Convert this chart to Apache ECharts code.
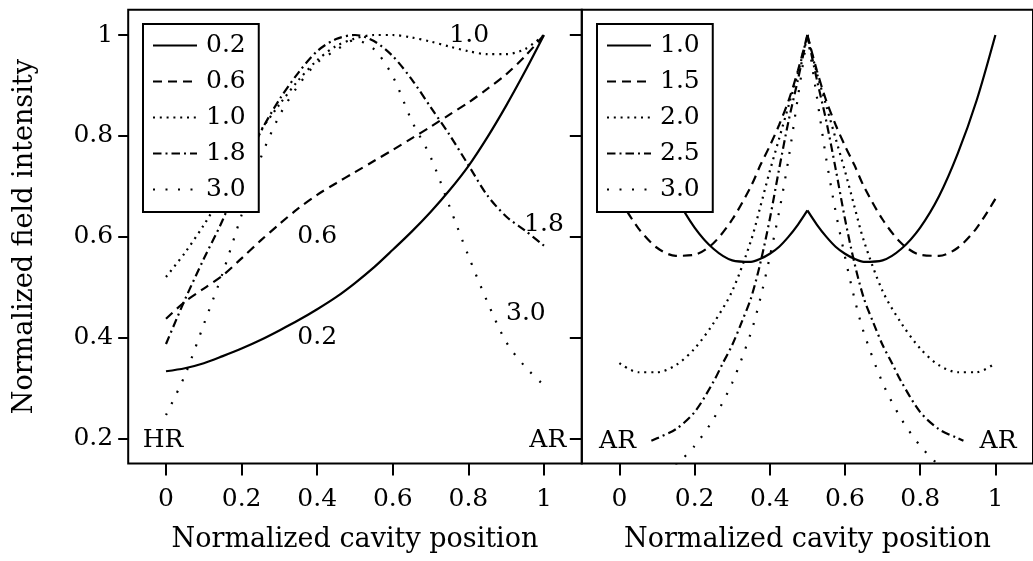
<!DOCTYPE html>
<html>
<head>
<meta charset="utf-8">
<script src="https://cdn.jsdelivr.net/npm/echarts@6/dist/echarts.min.js"></script>
<style>
html,body{margin:0;padding:0;background:#fff;}
#chart{width:1033px;height:561px;}
</style>
</head>
<body>
<div id="chart"></div>
<script>
// ---------- data ----------
const xTicks = [0, 0.2, 0.4, 0.6, 0.8, 1];
const yTicks = [0.2, 0.4, 0.6, 0.8, 1];

// left panel (HR at 0, AR at 1)
const leftNames = ['0.2', '0.6', '1.0', '1.8', '3.0'];
const leftX = [0,0.05,0.1,0.15,0.2,0.25,0.3,0.35,0.4,0.45,0.5,0.55,0.6,0.65,0.7,0.75,0.8,0.85,0.9,0.95,1];
const left02 = [0.333,0.339,0.349,0.363,0.378,0.395,0.414,0.434,0.456,0.48,0.508,0.539,0.574,0.61,0.649,0.692,0.74,0.797,0.86,0.928,1.0];
const left06 = [0.437,0.471,0.497,0.523,0.557,0.592,0.625,0.656,0.683,0.706,0.728,0.75,0.772,0.795,0.818,0.842,0.866,0.893,0.922,0.958,1.0];
const left10 = [0.52,0.568,0.623,0.685,0.75,0.81,0.862,0.91,0.95,0.978,0.993,1.0,1.0,0.995,0.987,0.977,0.968,0.962,0.962,0.972,1.0];
const left18 = [0.387,0.475,0.556,0.633,0.725,0.807,0.872,0.925,0.968,0.992,1.0,0.988,0.958,0.912,0.857,0.802,0.742,0.682,0.64,0.612,0.582];
const left30 = [0.246,0.325,0.426,0.528,0.643,0.755,0.84,0.9,0.945,0.97,0.99,0.972,0.918,0.83,0.758,0.66,0.562,0.471,0.391,0.342,0.305];

// right panel (AR at both ends), cusp at x = 0.5
const rightNames = ['1.0', '1.5', '2.0', '2.5', '3.0'];
const rightX = [0,0.05,0.1,0.15,0.2,0.25,0.3,0.35,0.375,0.4,0.425,0.45,0.475,0.5,0.525,0.55,0.575,0.6,0.625,0.65,0.7,0.75,0.8,0.85,0.9,0.95,1];
const right10 = [1.0,0.87,0.765,0.68,0.618,0.576,0.553,0.55,0.556,0.566,0.58,0.6,0.624,0.652,0.624,0.6,0.58,0.566,0.556,0.55,0.553,0.576,0.618,0.68,0.765,0.87,1.0];
const right15 = [0.675,0.617,0.578,0.562,0.564,0.587,0.634,0.7,0.742,0.78,0.822,0.87,0.93,1.0,0.93,0.87,0.822,0.78,0.742,0.7,0.634,0.587,0.564,0.562,0.578,0.617,0.675];
const right20 = [0.349,0.331,0.331,0.345,0.378,0.428,0.492,0.592,0.66,0.73,0.795,0.86,0.925,1.0,0.925,0.86,0.795,0.73,0.66,0.592,0.492,0.428,0.378,0.345,0.331,0.331,0.349];
const right25X = [0.085,0.1,0.15,0.2,0.25,0.275,0.3,0.325,0.35,0.375,0.4,0.425,0.45,0.475,0.5,0.525,0.55,0.575,0.6,0.625,0.65,0.675,0.7,0.725,0.75,0.8,0.85,0.9,0.915];
const right25 = [0.195,0.2,0.218,0.252,0.312,0.349,0.385,0.43,0.478,0.548,0.635,0.735,0.83,0.912,1.0,0.912,0.83,0.735,0.635,0.548,0.478,0.43,0.385,0.349,0.312,0.252,0.218,0.2,0.195];
const right30X = [0.15,0.2,0.25,0.3,0.35,0.375,0.4,0.425,0.45,0.475,0.5,0.525,0.55,0.575,0.6,0.625,0.65,0.7,0.75,0.8,0.85];
const right30 = [0.146,0.185,0.238,0.31,0.41,0.478,0.56,0.65,0.755,0.878,1.0,0.878,0.755,0.65,0.56,0.478,0.41,0.31,0.238,0.185,0.146];
const cuspX = 0.5;

// in-plot annotations [x, y, text]
const leftNotes = [[0.802,1.0,'1.0'],[1.0,0.625,'1.8'],[0.4,0.6,'0.6'],[0.4,0.399,'0.2'],[0.952,0.448,'3.0'],[-0.008,0.195,'HR'],[1.01,0.195,'AR']];
const rightNotes = [[-0.005,0.193,'AR'],[1.007,0.193,'AR']];

const xTitle = 'Normalized cavity position';
const yTitle = 'Normalized field intensity';

// ---------- styles ----------
const FONT = 'DejaVu Serif';
const dashStyles = {
  solid: 'solid',
  dashed: [9, 6],
  dense: [2, 4.8],
  dashdot: [8.5, 4, 2, 4],
  sparse: [2, 10.5]
};
const LW = 2.2;
const zip = (xs, ys) => xs.map((x, i) => [x, ys[i]]);
// break the polyline at the cusp so each side is smoothed on its own
function withCusp(pts) {
  const out = [];
  pts.forEach(p => {
    out.push(p);
    if (p[0] === cuspX) { out.push([cuspX, '-']); out.push([p[0], p[1]]); }
  });
  return out;
}

function lineSeries(name, data, dash, xi, yi) {
  return {
    type: 'line', name: name, data: data,
    xAxisIndex: xi, yAxisIndex: yi,
    symbol: 'none', smooth: 0.3, connectNulls: false,
    clip: true, silent: true,
    lineStyle: { color: '#000', width: LW, type: dash, cap: 'butt' },
    itemStyle: { color: '#000' },
    emphasis: { disabled: true }
  };
}
function noteSeries(notes, xi, yi) {
  return {
    type: 'scatter', data: notes, xAxisIndex: xi, yAxisIndex: yi,
    symbolSize: 0, silent: true, clip: false,
    itemStyle: { color: '#000', opacity: 1 },
    label: {
      show: true, position: [0, 0], align: 'center', verticalAlign: 'middle',
      formatter: p => p.data[2], opacity: 1,
      fontFamily: FONT, fontSize: 25, color: '#000', textBorderWidth: 0
    },
    emphasis: { disabled: true }
  };
}

const fmtX = v => (v === 0 ? '0' : v === 1 ? '1' : v.toFixed(1));
const fmtY = v => (v === 1 ? '1' : v.toFixed(1));

function xAxis(gi) {
  return {
    type: 'value', gridIndex: gi, min: -0.1, max: 1.1,
    name: xTitle, nameLocation: 'middle', nameGap: 63,
    nameTextStyle: { fontFamily: FONT, fontSize: 27, color: '#000' },
    axisLine: { show: false, onZero: false },
    axisTick: { show: true, length: 12, inside: false, customValues: xTicks, lineStyle: { color: '#000', width: 2 } },
    axisLabel: { show: true, customValues: xTicks, formatter: fmtX, margin: 23, fontFamily: FONT, fontSize: 25, color: '#000' },
    splitLine: { show: false }
  };
}

const gridTop = 9.8, gridH = 453.7, gridW = 453.6;

const legendBase = {
  orient: 'vertical', top: 24,
  itemWidth: 44, itemHeight: 25, itemGap: 11,
  padding: [9, 13, 10, 9],
  borderColor: '#000', borderWidth: 2, backgroundColor: '#fff',
  selectedMode: false,
  itemStyle: { opacity: 0, borderWidth: 0 },
  textStyle: { fontFamily: FONT, fontSize: 25, color: '#000', lineHeight: 25, padding: [0, 0, 0, 4] }
};

const option = {
  animation: false,
  backgroundColor: '#fff',
  grid: [
    { left: 128.2, top: gridTop, width: gridW, height: gridH, show: true, borderColor: '#000', borderWidth: 2, backgroundColor: 'transparent' },
    { left: 581.8, top: gridTop, width: gridW, height: gridH, show: true, borderColor: '#000', borderWidth: 2, backgroundColor: 'transparent' }
  ],
  xAxis: [xAxis(0), xAxis(1)],
  yAxis: [
    {
      type: 'value', gridIndex: 0, min: 0.15, max: 1.05, position: 'left',
      name: yTitle, nameLocation: 'middle', nameGap: 90,
      nameTextStyle: { fontFamily: FONT, fontSize: 27, color: '#000' },
      axisLine: { show: false, onZero: false },
      axisTick: { show: true, length: 10, inside: false, customValues: yTicks, lineStyle: { color: '#000', width: 2 } },
      axisLabel: { show: true, customValues: yTicks, formatter: fmtY, margin: 15, fontFamily: FONT, fontSize: 25, color: '#000' },
      splitLine: { show: false }
    },
    {
      type: 'value', gridIndex: 0, min: 0.15, max: 1.05, position: 'right',
      axisLine: { show: false, onZero: false },
      axisTick: { show: true, length: 12, inside: true, customValues: yTicks, lineStyle: { color: '#000', width: 2 } },
      axisLabel: { show: false },
      splitLine: { show: false }
    },
    {
      type: 'value', gridIndex: 1, min: 0.15, max: 1.05,
      axisLine: { show: false, onZero: false }, axisTick: { show: false }, axisLabel: { show: false }, splitLine: { show: false }
    }
  ],
  legend: [
    Object.assign({}, legendBase, { data: leftNames, left: 143 }),
    Object.assign({}, legendBase, { data: rightNames.map(n => 'R' + n), left: 597, formatter: n => n.slice(1) })
  ],
  series: [
    lineSeries(leftNames[0], zip(leftX, left02), dashStyles.solid, 0, 0),
    lineSeries(leftNames[1], zip(leftX, left06), dashStyles.dashed, 0, 0),
    lineSeries(leftNames[2], zip(leftX, left10), dashStyles.dense, 0, 0),
    lineSeries(leftNames[3], zip(leftX, left18), dashStyles.dashdot, 0, 0),
    lineSeries(leftNames[4], zip(leftX, left30), dashStyles.sparse, 0, 0),
    lineSeries('R' + rightNames[0], withCusp(zip(rightX, right10)), dashStyles.solid, 1, 2),
    lineSeries('R' + rightNames[1], withCusp(zip(rightX, right15)), dashStyles.dashed, 1, 2),
    lineSeries('R' + rightNames[2], withCusp(zip(rightX, right20)), dashStyles.dense, 1, 2),
    lineSeries('R' + rightNames[3], withCusp(zip(right25X, right25)), dashStyles.dashdot, 1, 2),
    lineSeries('R' + rightNames[4], withCusp(zip(right30X, right30)), dashStyles.sparse, 1, 2),
    noteSeries(leftNotes, 0, 0),
    noteSeries(rightNotes, 1, 2)
  ]
};

const chart = echarts.init(document.getElementById('chart'), null, { renderer: 'canvas' });
chart.setOption(option);
</script>
</body>
</html>
